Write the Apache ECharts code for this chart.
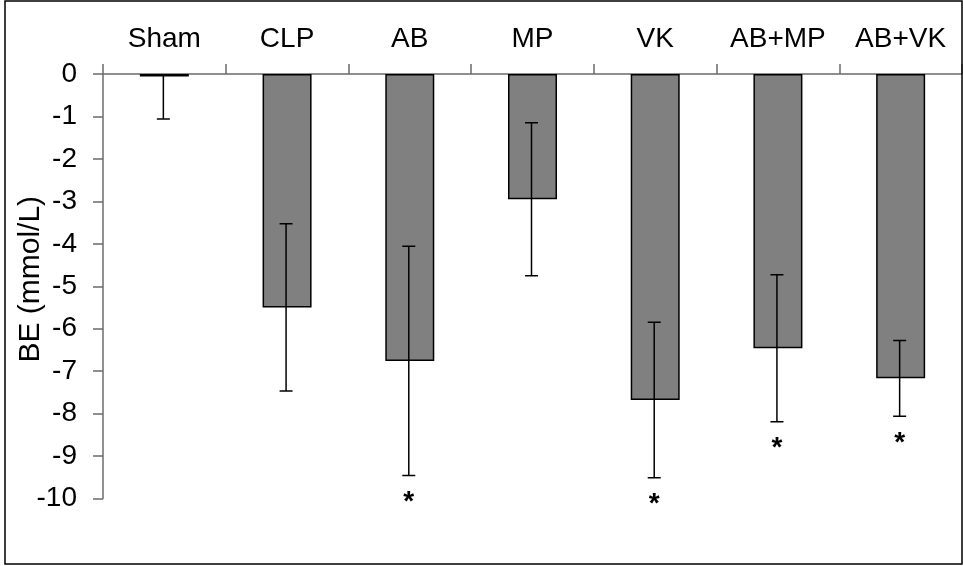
<!DOCTYPE html>
<html>
<head>
<meta charset="utf-8">
<script src="https://cdn.jsdelivr.net/npm/echarts@6/dist/echarts.min.js"></script>
<style>
  html, body { margin: 0; padding: 0; background: #fff; }
  #chart { width: 963px; height: 566px; }
</style>
</head>
<body>
<div id="chart"></div>
<script>
// ---- Data ----
const categories = ['Sham', 'CLP', 'AB', 'MP', 'VK', 'AB+MP', 'AB+VK'];
const meanBE = [-0.06, -5.50, -6.76, -2.95, -7.68, -6.46, -7.17];
const errBE = [1.00, 1.97, 2.70, 1.80, 1.83, 1.73, 0.89];
const sigMarks = ['', '', '*', '', '*', '*', '*'];
const yTickMin = -10;
const yTickMax = 0;
const yTickStep = 1;
const yAxisTitle = 'BE (mmol/L)';

const FONT = '"Liberation Sans", Arial, Helvetica, sans-serif';

const chart = echarts.init(document.getElementById('chart'), null, { renderer: 'canvas' });

const errData = categories.map((c, i) => [i, meanBE[i] + errBE[i], meanBE[i] - errBE[i]]);
const markData = categories.map((c, i) => [i, meanBE[i] - errBE[i], sigMarks[i]]);

const option = {
  backgroundColor: '#fff',
  animation: false,
  textStyle: { fontFamily: FONT },
  graphic: [{
    type: 'rect',
    shape: { x: 5, y: 1, width: 957, height: 563 },
    style: { fill: 'none', stroke: '#000', lineWidth: 1.5 },
    silent: true,
    z: 100
  }],
  grid: { left: 103, right: 1, top: 74, bottom: 67.5, containLabel: false, outerBoundsMode: 'none' },
  xAxis: {
    type: 'category',
    position: 'top',
    data: categories,
    boundaryGap: true,
    axisLine: { show: true, lineStyle: { color: '#6b6b6b', width: 1.5 } },
    axisTick: { show: true, length: 10, lineStyle: { color: '#6b6b6b', width: 1.5 } },
    axisLabel: { color: '#000', fontSize: 28, fontFamily: FONT, margin: 21, interval: 0 },
    splitLine: { show: false }
  },
  yAxis: {
    type: 'value',
    min: yTickMin,
    max: yTickMax,
    interval: yTickStep,
    name: yAxisTitle,
    nameLocation: 'middle',
    nameRotate: 90,
    nameGap: 57,
    nameMoveOverlap: false,
    nameTextStyle: { color: '#000', fontSize: 30, fontFamily: FONT, padding: [0, 0, 0, 14] },
    axisLine: { show: true, lineStyle: { color: '#6b6b6b', width: 1.5 } },
    axisTick: { show: true, length: 10, lineStyle: { color: '#6b6b6b', width: 1.5 } },
    axisLabel: { color: '#000', fontSize: 28, fontFamily: FONT, margin: 26 },
    splitLine: { show: false }
  },
  series: [
    {
      type: 'bar',
      data: meanBE,
      barWidth: 49,
      itemStyle: { color: '#808080', borderColor: '#000', borderWidth: 1.5 },
      z: 2
    },
    {
      type: 'custom',
      data: errData,
      clip: true,
      z: 3,
      renderItem: function (params, api) {
        const x = api.coord([api.value(0), 0])[0] - 1;
        const hi = api.coord([api.value(0), api.value(1)])[1];
        const lo = api.coord([api.value(0), api.value(2)])[1];
        const hw = 6.5;
        const st = { stroke: '#000', lineWidth: 1.5 };
        return {
          type: 'group',
          children: [
            { type: 'line', shape: { x1: x, y1: hi, x2: x, y2: lo }, style: st },
            { type: 'line', shape: { x1: x - hw, y1: hi, x2: x + hw, y2: hi }, style: st },
            { type: 'line', shape: { x1: x - hw, y1: lo, x2: x + hw, y2: lo }, style: st }
          ]
        };
      }
    },
    {
      type: 'custom',
      data: markData,
      z: 4,
      renderItem: function (params, api) {
        const idx = params.dataIndex;
        const txt = sigMarks[idx];
        if (!txt) return null;
        const p = api.coord([api.value(0), api.value(1)]);
        return {
          type: 'text',
          x: p[0] - 1,
          y: p[1] + 27,
          style: {
            text: txt,
            font: 'bold 28px ' + FONT,
            fill: '#000',
            align: 'center',
            verticalAlign: 'middle'
          }
        };
      }
    }
  ]
};

chart.setOption(option);
</script>
</body>
</html>
